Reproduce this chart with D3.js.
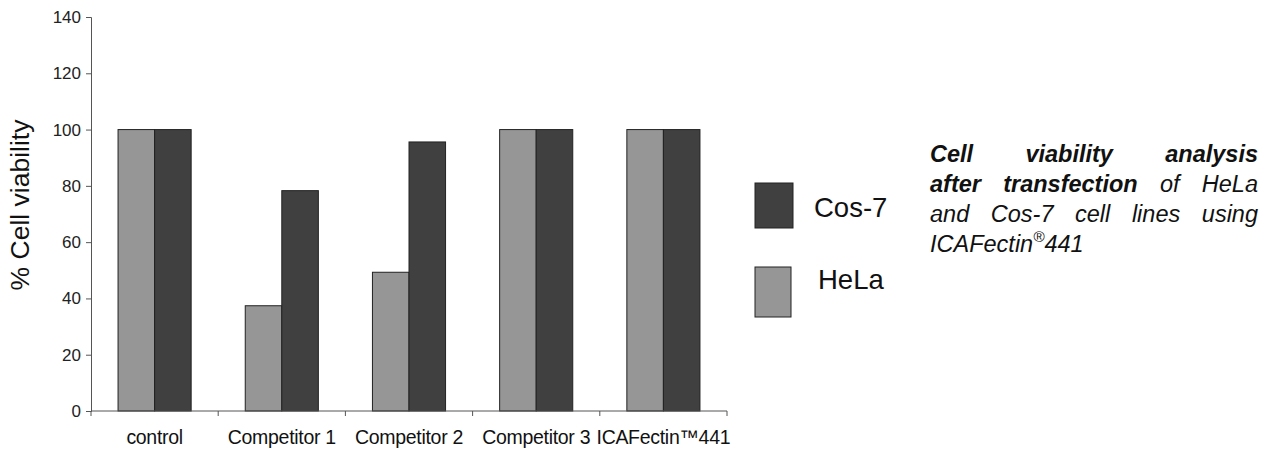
<!DOCTYPE html>
<html>
<head>
<meta charset="utf-8">
<script src="https://cdn.jsdelivr.net/npm/d3@7"></script>
<style>
  body { margin: 0; background: #fff; }
  svg { display: block; font-family: Arial, "Liberation Sans", sans-serif; }
</style>
</head>
<body>
<svg id="chart" width="1272" height="451"></svg>
<script>
// data
const categories = ["control", "Competitor 1", "Competitor 2", "Competitor 3", "ICAFectin\u2122441"]
const series = ["HeLa", "Cos-7"]
const hela = [100, 37.4, 49.3, 100, 100]
const cos7 = [100, 78.3, 95.6, 100, 100]
const yTicks = [0, 20, 40, 60, 80, 100, 120, 140]

const colors = {"HeLa": "#969696", "Cos-7": "#404040"}

const svg = d3.select("#chart")
const plotL = 91, plotR = 727, plotT = 17, plotB = 411

const x0 = d3.scaleBand().domain(categories).range([plotL, plotR])
const x1 = d3.scaleBand().domain(series).range([0, x0.bandwidth()]).paddingOuter(0.74)
const y = d3.scaleLinear().domain([0, 140]).range([plotB, plotT])

const rows = categories.map((c, i) => ({cat: c, values: [{s: "HeLa", v: hela[i]}, {s: "Cos-7", v: cos7[i]}]}))

// bars
svg.append("g")
  .selectAll("g")
  .data(rows).enter()
  .append("g")
  .attr("transform", d => `translate(${x0(d.cat)},0)`)
  .selectAll("rect")
  .data(d => d.values).enter()
  .append("rect")
  .attr("x", d => x1(d.s))
  .attr("y", d => y(d.v))
  .attr("width", x1.bandwidth())
  .attr("height", d => plotB - y(d.v))
  .attr("fill", d => colors[d.s])
  .attr("stroke", "#222")
  .attr("stroke-width", 1)

// y axis
const yAxis = svg.append("g")
  .attr("transform", `translate(${plotL},0)`)
  .call(d3.axisLeft(y).tickValues(yTicks).tickSize(5).tickPadding(5))
yAxis.selectAll("path, line").attr("stroke", "#555")
yAxis.selectAll("text").attr("font-size", 17).attr("fill", "#222").attr("font-family", "Arial")

// x axis: ticks at category boundaries
const xAxis = svg.append("g").attr("transform", `translate(0,${plotB})`)
xAxis.append("line").attr("x1", plotL).attr("x2", plotR).attr("stroke", "#555")
xAxis.selectAll("line.tick")
  .data(categories.map(c => x0(c)).concat([plotR])).enter()
  .append("line").attr("class", "tick")
  .attr("x1", d => d).attr("x2", d => d).attr("y1", 0).attr("y2", 5)
  .attr("stroke", "#555")
xAxis.selectAll("text")
  .data(categories).enter()
  .append("text")
  .attr("x", d => x0(d) + x0.bandwidth() / 2)
  .attr("y", 33)
  .attr("text-anchor", "middle")
  .attr("font-size", 19.5)
  .attr("letter-spacing", -0.3)
  .attr("fill", "#111")
  .text(d => d)

// y title
svg.append("text")
  .attr("transform", "translate(29,205) rotate(-90)")
  .attr("text-anchor", "middle")
  .attr("font-size", 26.5)
  .attr("fill", "#111")
  .text("% Cell viability")

// legend
const legend = [
  {s: "Cos-7", x: 755, y: 183, w: 38, h: 45, tx: 814, ty: 217},
  {s: "HeLa", x: 755, y: 267, w: 36, h: 50, tx: 818, ty: 289}
]
const lg = svg.append("g").selectAll("g").data(legend).enter().append("g")
lg.append("rect")
  .attr("x", d => d.x).attr("y", d => d.y).attr("width", d => d.w).attr("height", d => d.h)
  .attr("fill", d => colors[d.s]).attr("stroke", "#222")
lg.append("text")
  .attr("x", d => d.tx).attr("y", d => d.ty)
  .attr("font-size", 27.5).attr("fill", "#111")
  .text(d => d.s)

// caption, justified by hand
const capLeft = 930, capRight = 1258, capTop = 162, lineH = 30, capSize = 23.5
const captionLines = [
  [{t: "Cell", b: true}, {t: "viability", b: true}, {t: "analysis", b: true}],
  [{t: "after", b: true}, {t: "transfection", b: true}, {t: "of", b: false}, {t: "HeLa", b: false}],
  [{t: "and"}, {t: "Cos-7"}, {t: "cell"}, {t: "lines"}, {t: "using"}]
]
const cap = svg.append("g").attr("font-size", capSize).attr("font-style", "italic").attr("fill", "#111")
captionLines.forEach((words, li) => {
  const texts = words.map(w => cap.append("text")
    .attr("y", capTop + li * lineH)
    .attr("font-weight", w.b ? "bold" : "normal")
    .text(w.t))
  const widths = texts.map(t => t.node().getComputedTextLength())
  const gap = (capRight - capLeft - d3.sum(widths)) / (words.length - 1)
  let cx = capLeft
  texts.forEach((t, i) => { t.attr("x", cx); cx += widths[i] + gap })
})
const last = cap.append("text").attr("x", capLeft).attr("y", capTop + 3 * lineH)
last.append("tspan").text("ICAFectin")
last.append("tspan").attr("font-size", capSize * 0.65).attr("dy", -10).text("\u00ae")
last.append("tspan").attr("dy", 10).text("441")
</script>
</body>
</html>
